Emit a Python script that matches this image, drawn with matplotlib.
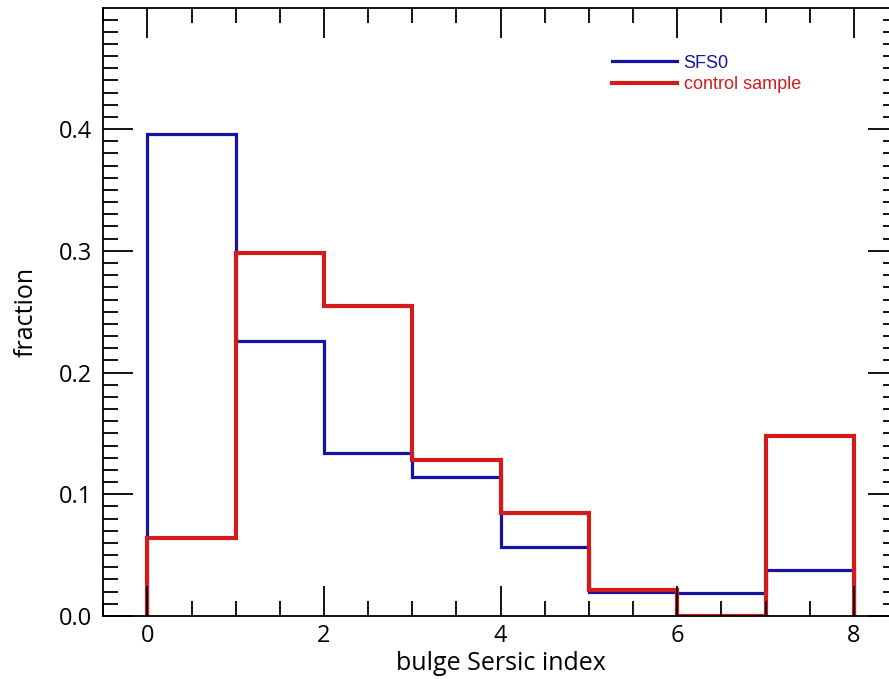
import matplotlib.pyplot as plt
import numpy as np
from matplotlib.ticker import MultipleLocator

# bin edges and histogram fractions
bin_edges = [0, 1, 2, 3, 4, 5, 6, 7, 8]
sfs0_frac = [0.396, 0.226, 0.134, 0.114, 0.057, 0.020, 0.019, 0.038]
control_frac = [0.064, 0.298, 0.255, 0.128, 0.085, 0.021, 0.0, 0.148]

blue = '#1414a0'
red = '#d21c1c'

plt.rcParams['font.family'] = ['Open Sans', 'DejaVu Sans']

W, H = 889, 679
fig = plt.figure(figsize=(W / 100, H / 100), dpi=100)
# axes box placed in pixels; right edge runs just past the picture
ax = fig.add_axes([103.3 / W, 63 / H, 794.7 / W, 608 / H])

ax.stairs(sfs0_frac, bin_edges, color=blue, linewidth=2.3, label='SFS0')
ax.stairs(control_frac, bin_edges, color=red, linewidth=3.0, label='control sample')

ax.set_xlim(-0.5, 8.5)
ax.set_ylim(0, 0.4995)
ax.xaxis.set_major_locator(MultipleLocator(2))
ax.xaxis.set_minor_locator(MultipleLocator(0.5))
ax.yaxis.set_major_locator(MultipleLocator(0.1))
ax.yaxis.set_minor_locator(MultipleLocator(0.01))
ax.yaxis.set_major_formatter(lambda v, p: f'{v:.1f}')

ax.tick_params(which='both', direction='in', top=True, right=True, width=1.3)
ax.tick_params(which='major', length=21.5, labelsize=17, pad=8)
ax.tick_params(which='minor', length=10.5)
ax.tick_params(axis='x', which='major', pad=6)
for s in ax.spines.values():
    s.set_linewidth(1.3)

ax.set_xlabel('bulge Sersic index', fontsize=18)
ax.set_ylabel('fraction', fontsize=18)
ax.xaxis.set_label_coords(0.5, -0.058)
ax.yaxis.set_label_coords(-0.082, 0.5)

leg = ax.legend(loc='upper left', bbox_to_anchor=(0.62, 0.95), frameon=False,
                prop={'family': 'Liberation Sans', 'size': 13},
                handlelength=3.6, handletextpad=0.35, labelspacing=0.25,
                labelcolor='linecolor')

fig.savefig('out.png', dpi=100)
